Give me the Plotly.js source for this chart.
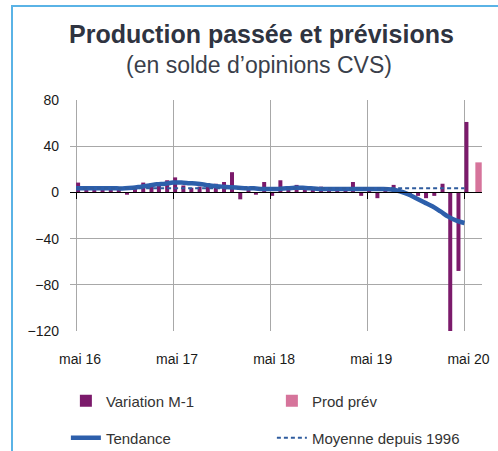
<!DOCTYPE html>
<html>
<head>
<meta charset="utf-8">
<script src="https://cdn.plot.ly/plotly-3.0.1.min.js"></script>
<style>
  html, body { margin: 0; padding: 0; background: #fff; }
  #chart { position: absolute; left: 0; top: 0; width: 498px; height: 451px; }
  #cadre { position: absolute; left: 11px; top: 5px; right: 0; bottom: 0;
           border-left: 2px solid #5ab3e6; border-top: 2px solid #5ab3e6; pointer-events: none; }
</style>
</head>
<body>
<div id="chart"></div>
<div id="cadre"></div>
<script>
// mois de mai 2016 à mai 2020
const mois = [
  '2016-05', '2016-06', '2016-07', '2016-08', '2016-09', '2016-10', '2016-11', '2016-12',
  '2017-01', '2017-02', '2017-03', '2017-04', '2017-05', '2017-06', '2017-07', '2017-08',
  '2017-09', '2017-10', '2017-11', '2017-12', '2018-01', '2018-02', '2018-03', '2018-04',
  '2018-05', '2018-06', '2018-07', '2018-08', '2018-09', '2018-10', '2018-11', '2018-12',
  '2019-01', '2019-02', '2019-03', '2019-04', '2019-05', '2019-06', '2019-07', '2019-08',
  '2019-09', '2019-10', '2019-11', '2019-12', '2020-01', '2020-02', '2020-03', '2020-04',
  '2020-05'
];
const variationM1 = [
  8.5, 4, 3, 4, 3, 4, -2, 3,
  8.5, 8, 7, 10.5, 13, 6, 4, 5,
  8, 7.5, 9, 17.5, -6, 2, -2, 9,
  -3, 10.5, 3, 6.5, 4, 3, 5, 3,
  4, 3, 9, -3, 4, -5, 3, 6.5,
  2, -2, -3, -5, -3, 7.5, -120, -68,
  61
];
const tendance = [
  3.5, 3.5, 3.5, 3.5, 3.5, 3.5, 3.5, 4,
  5, 6, 7, 7.5, 8.5, 8.5, 8, 7.5,
  6.5, 5.5, 5, 4.5, 4, 3.5, 3.5, 3,
  3, 3, 3.5, 4, 4, 3.5, 3, 3,
  3, 3, 3, 3, 3, 3, 3, 2.5,
  1, -1.5, -5, -8.5, -12, -16.5, -21, -24.5,
  -26.5
];
const moyenneDepuis1996 = 3.5;
const moisPrev = ['2020-06'];
const prodPrev = [26];

const tickDates = ['2016-05-01', '2017-05-01', '2018-05-01', '2019-05-01', '2020-05-01'];
const tickLabels = ['mai 16', 'mai 17', 'mai 18', 'mai 19', 'mai 20'];

const JOUR = 86400000;
const police = 'Liberation Sans, Arial, sans-serif';

const data = [
  {
    x: mois, y: variationM1, name: 'Variation M-1', type: 'bar',
    offset: 0, width: 15 * JOUR,
    marker: { color: '#7b1a6b' }, legend: 'legend'
  },
  {
    x: moisPrev, y: prodPrev, name: 'Prod prév', type: 'bar',
    offset: 10 * JOUR, width: 24 * JOUR,
    marker: { color: '#d6749b' }, legend: 'legend'
  },
  {
    x: mois, y: tendance, name: 'Tendance', type: 'scatter', mode: 'lines',
    line: { color: '#2d5fab', width: 4.5, shape: 'spline' }, legend: 'legend2'
  },
  {
    x: mois, y: mois.map(() => moyenneDepuis1996), name: 'Moyenne depuis 1996',
    type: 'scatter', mode: 'lines', xaxis: 'x2',
    line: { color: '#2f5c9e', width: 2, dash: '4px,3px' }, legend: 'legend2'
  }
];

const legendeCommune = {
  orientation: 'h', xanchor: 'left', yanchor: 'middle', x: -0.01,
  entrywidth: 161, bgcolor: 'rgba(0,0,0,0)',
  font: { family: police, size: 15, color: '#333' }
};

const layout = {
  width: 498, height: 451,
  margin: { l: 70, r: 16, t: 100, b: 120, autoexpand: false },
  paper_bgcolor: 'rgba(0,0,0,0)', plot_bgcolor: 'rgba(0,0,0,0)',
  barmode: 'overlay',
  showlegend: true,
  font: { family: police, size: 14, color: '#1a1a1a' },
  xaxis: {
    type: 'date', range: ['2016-04-08', '2020-07-06'],
    tickvals: tickDates, ticktext: tickLabels,
    showgrid: true, gridcolor: '#a8a8a8', gridwidth: 1,
    ticks: '', showline: false, zeroline: false, automargin: false,
    ticklabelstandoff: 18, ticklabelshift: 4,
    tickfont: { family: police, size: 14, color: '#1a1a1a' }
  },
  xaxis2: {
    type: 'date', overlaying: 'x', matches: 'x', anchor: 'free', position: 0.6,
    tickvals: tickDates, showticklabels: false, showgrid: false, zeroline: false,
    showline: true, linecolor: '#000', linewidth: 1,
    ticks: 'outside', ticklen: 6, tickcolor: '#000', tickwidth: 1
  },
  yaxis: {
    range: [-120, 80], tickvals: [-120, -80, -40, 0, 40, 80],
    showgrid: true, gridcolor: '#a8a8a8', gridwidth: 1,
    zeroline: false, showline: false, ticks: '', automargin: false,
    ticklabelstandoff: 10,
    tickfont: { family: police, size: 14, color: '#1a1a1a' }
  },
  legend: Object.assign({}, legendeCommune, { y: -0.303 }),
  legend2: Object.assign({}, legendeCommune, { y: -0.463 }),
  annotations: [
    {
      text: 'Production passée et prévisions', xref: 'paper', yref: 'paper',
      x: 0.465, y: 1.287, xanchor: 'center', yanchor: 'middle', showarrow: false,
      font: { family: police, size: 25, weight: 700, color: '#2f3441' }
    },
    {
      text: '(en solde d’opinions CVS)', xref: 'paper', yref: 'paper',
      x: 0.459, y: 1.150, xanchor: 'center', yanchor: 'middle', showarrow: false,
      font: { family: police, size: 23, color: '#3a3f4b' }
    }
  ]
};

Plotly.newPlot('chart', data, layout, { staticPlot: true, displayModeBar: false });
</script>
</body>
</html>
